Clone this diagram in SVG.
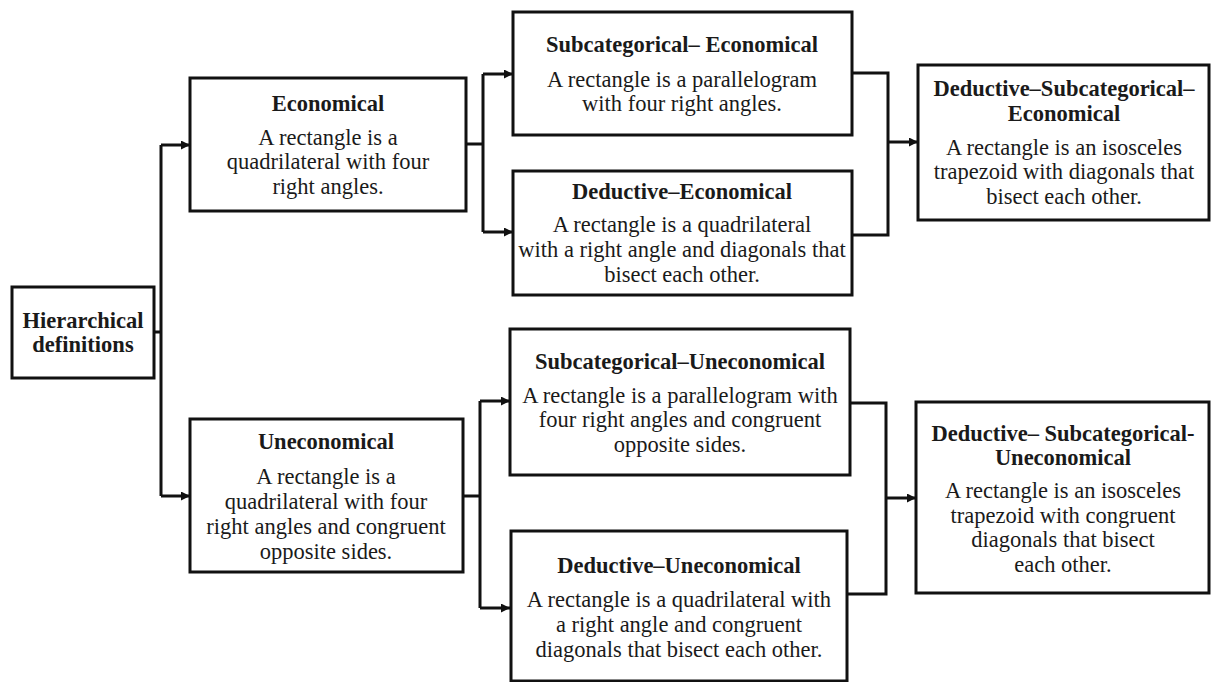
<svg xmlns="http://www.w3.org/2000/svg" width="1211" height="682" viewBox="0 0 1211 682">
<style>
.box{fill:#fff;stroke:#111;stroke-width:3}
.t{font-family:"Liberation Serif","Times New Roman",serif;font-size:22.5px;fill:#1a1a1a;text-anchor:middle}
.b{font-weight:bold}
.c{fill:none;stroke:#111;stroke-width:3}
</style>
<defs>
<marker id="ah" markerUnits="userSpaceOnUse" markerWidth="9" markerHeight="9" refX="9" refY="4.5" orient="auto">
<path d="M0,0 L9,4.5 L0,9 z" fill="#111"/>
</marker>
</defs>
<rect width="1211" height="682" fill="#fff"/>
<g id="connectors">
<path class="c" d="M154,332 H161 M161,145 V496"/>
<path class="c" d="M161,145 H190" marker-end="url(#ah)"/>
<path class="c" d="M161,496 H190" marker-end="url(#ah)"/>
<path class="c" d="M466,144 H483 M483,74 V232"/>
<path class="c" d="M483,74 H513" marker-end="url(#ah)"/>
<path class="c" d="M483,232 H513" marker-end="url(#ah)"/>
<path class="c" d="M852,73 H888 V235 H852"/>
<path class="c" d="M888,142 H918" marker-end="url(#ah)"/>
<path class="c" d="M463,496 H480 M480,401 V608"/>
<path class="c" d="M480,401 H510" marker-end="url(#ah)"/>
<path class="c" d="M480,608 H510" marker-end="url(#ah)"/>
<path class="c" d="M850,403 H886 V594 H847"/>
<path class="c" d="M886,498 H916" marker-end="url(#ah)"/>
</g>
<g id="hierarchical">
<rect class="box" x="12" y="287" width="142" height="91"/>
<text class="t b" x="83" y="328">Hierarchical</text>
<text class="t b" x="83" y="352">definitions</text>
</g>
<g id="economical">
<rect class="box" x="190" y="78" width="276" height="133"/>
<text class="t b" x="328" y="111">Economical</text>
<text class="t" x="328" y="145">A rectangle is a</text>
<text class="t" x="328" y="169">quadrilateral with four</text>
<text class="t" x="328" y="194">right angles.</text>
</g>
<g id="subcategorical-economical">
<rect class="box" x="513" y="12" width="339" height="123"/>
<text class="t b" x="682" y="52">Subcategorical– Economical</text>
<text class="t" x="682" y="87">A rectangle is a parallelogram</text>
<text class="t" x="682" y="111">with four right angles.</text>
</g>
<g id="deductive-economical">
<rect class="box" x="513" y="171" width="339" height="124"/>
<text class="t b" x="682" y="199">Deductive–Economical</text>
<text class="t" x="682" y="232">A rectangle is a quadrilateral</text>
<text class="t" x="682" y="257">with a right angle and diagonals that</text>
<text class="t" x="682" y="282">bisect each other.</text>
</g>
<g id="deductive-subcategorical-economical">
<rect class="box" x="918" y="65" width="291" height="155"/>
<text class="t b" x="1064" y="96">Deductive–Subcategorical–</text>
<text class="t b" x="1064" y="121">Economical</text>
<text class="t" x="1064" y="155">A rectangle is an isosceles</text>
<text class="t" x="1064" y="179">trapezoid with diagonals that</text>
<text class="t" x="1064" y="204">bisect each other.</text>
</g>
<g id="uneconomical">
<rect class="box" x="190" y="419" width="273" height="153"/>
<text class="t b" x="326" y="449">Uneconomical</text>
<text class="t" x="326" y="484">A rectangle is a</text>
<text class="t" x="326" y="509">quadrilateral with four</text>
<text class="t" x="326" y="534">right angles and congruent</text>
<text class="t" x="326" y="559">opposite sides.</text>
</g>
<g id="subcategorical-uneconomical">
<rect class="box" x="510" y="329" width="340" height="146"/>
<text class="t b" x="680" y="369">Subcategorical–Uneconomical</text>
<text class="t" x="680" y="403">A rectangle is a parallelogram with</text>
<text class="t" x="680" y="427">four right angles and congruent</text>
<text class="t" x="680" y="452">opposite sides.</text>
</g>
<g id="deductive-uneconomical">
<rect class="box" x="511" y="531" width="336" height="150"/>
<text class="t b" x="679" y="573">Deductive–Uneconomical</text>
<text class="t" x="679" y="607">A rectangle is a quadrilateral with</text>
<text class="t" x="679" y="632">a right angle and congruent</text>
<text class="t" x="679" y="657">diagonals that bisect each other.</text>
</g>
<g id="deductive-subcategorical-uneconomical">
<rect class="box" x="916" y="402" width="293" height="191"/>
<text class="t b" x="1063" y="441">Deductive– Subcategorical-</text>
<text class="t b" x="1063" y="465">Uneconomical</text>
<text class="t" x="1063" y="498">A rectangle is an isosceles</text>
<text class="t" x="1063" y="523">trapezoid with congruent</text>
<text class="t" x="1063" y="547">diagonals that bisect</text>
<text class="t" x="1063" y="572">each other.</text>
</g>
</svg>
